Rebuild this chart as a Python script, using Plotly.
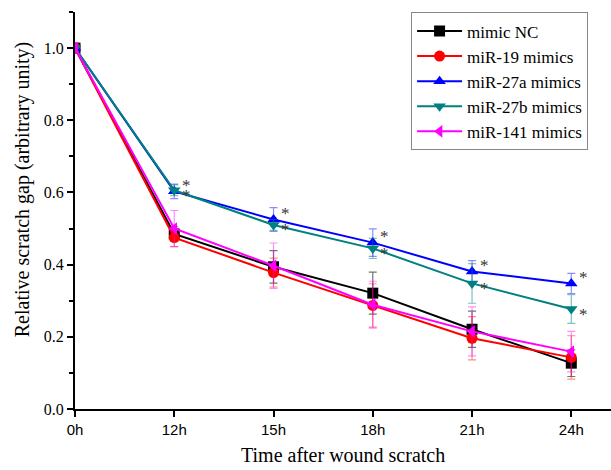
import plotly.graph_objects as go

times = ["0h", "12h", "15h", "18h", "21h", "24h"]

series_names = ["mimic NC", "miR-19 mimics", "miR-27a mimics", "miR-27b mimics", "miR-141 mimics"]

mimic_nc = [1.0, 0.485, 0.394, 0.321, 0.221, 0.127]
mir19 = [1.0, 0.475, 0.378, 0.287, 0.196, 0.143]
mir27a = [1.0, 0.603, 0.525, 0.461, 0.381, 0.348]
mir27b = [1.0, 0.606, 0.510, 0.445, 0.348, 0.277]
mir141 = [1.0, 0.500, 0.397, 0.289, 0.215, 0.159]

err_nc = [0.01, 0.02, 0.045, 0.058, 0.05, 0.037]
err_19 = [0.01, 0.025, 0.04, 0.06, 0.06, 0.06]
err_27a = [0.01, 0.02, 0.033, 0.038, 0.03, 0.028]
err_27b = [0.01, 0.015, 0.015, 0.028, 0.055, 0.04]
err_141 = [0.012, 0.05, 0.063, 0.065, 0.068, 0.056]

significant = [False, True, True, True, True, True]

x_title = "Time after wound scratch"
y_title = "Relative scratch gap (arbitrary unity)"

values = [mimic_nc, mir19, mir27a, mir27b, mir141]
errors = [err_nc, err_19, err_27a, err_27b, err_141]
colors = ["#000000", "#FF0000", "#0000FF", "#008080", "#FF00FF"]
err_colors = ["rgba(0,0,0,0.55)", "rgba(255,0,0,0.45)", "rgba(0,0,255,0.45)",
              "rgba(0,128,128,0.5)", "rgba(255,0,255,0.45)"]
symbols = ["square", "circle", "triangle-up", "triangle-down", "triangle-left"]

SERIF = "Liberation Serif, Times New Roman, serif"
SANS = "Liberation Sans, Arial, sans-serif"

fig = go.Figure()
for name, v, e, c, ec, s in zip(series_names, values, errors, colors, err_colors, symbols):
    fig.add_trace(go.Scatter(
        x=times, y=v, name=name, mode="lines+markers",
        line=dict(color=c, width=2),
        marker=dict(symbol=s, size=11, color=c),
        error_y=dict(type="data", array=e, visible=True, color=ec, thickness=1.2, width=4),
    ))

# significance asterisks for miR-27a (above) and miR-27b (below)
for vals, yshift in [(mir27a, 6), (mir27b, -5)]:
    for t, v, sig in zip(times, vals, significant):
        if sig:
            fig.add_annotation(x=t, y=v, text="*", showarrow=False, xshift=12, yshift=yshift,
                               font=dict(family=SERIF, size=17, color="#333333"))

# axis titles
fig.add_annotation(xref="paper", yref="paper", x=0.5, y=0, yshift=-46, yanchor="middle",
                   text=x_title, showarrow=False,
                   font=dict(family=SERIF, size=20, color="black"))
fig.add_annotation(xref="paper", yref="paper", x=0, y=0.551, xshift=-53, xanchor="center",
                   text=y_title, textangle=-90, showarrow=False,
                   font=dict(family=SERIF, size=20, color="black"))

fig.update_layout(
    width=611, height=470,
    margin=dict(l=75, r=0, t=12, b=61),
    paper_bgcolor="white", plot_bgcolor="white",
    showlegend=True,
    legend=dict(x=0.627, y=0.999, xanchor="left", yanchor="top",
                bordercolor="#888888", borderwidth=1, bgcolor="white",
                font=dict(family=SERIF, size=17, color="black"),
                itemwidth=45, tracegroupgap=0),
)
fig.update_xaxes(
    type="category", range=[0, 5.4], automargin=False,
    showline=True, linecolor="black", linewidth=2,
    ticks="outside", ticklen=6, tickwidth=2, tickcolor="black",
    showgrid=False, zeroline=False,
    tickfont=dict(family=SANS, size=15, color="black"),
)
fig.update_yaxes(
    range=[0, 1.1], tickvals=[0, 0.2, 0.4, 0.6, 0.8, 1.0], tickformat=".1f", automargin=False,
    showline=True, linecolor="black", linewidth=2,
    ticks="outside", ticklen=6, tickwidth=2, tickcolor="black",
    minor=dict(dtick=0.1, ticks="outside", ticklen=4, tickwidth=1.5, tickcolor="black"),
    showgrid=False, zeroline=False,
    tickfont=dict(family=SERIF, size=16, color="black"),
)

fig.write_html("out.html", config={"displayModeBar": False},
               post_script="document.body.style.margin='0';document.body.style.overflow='hidden';")
